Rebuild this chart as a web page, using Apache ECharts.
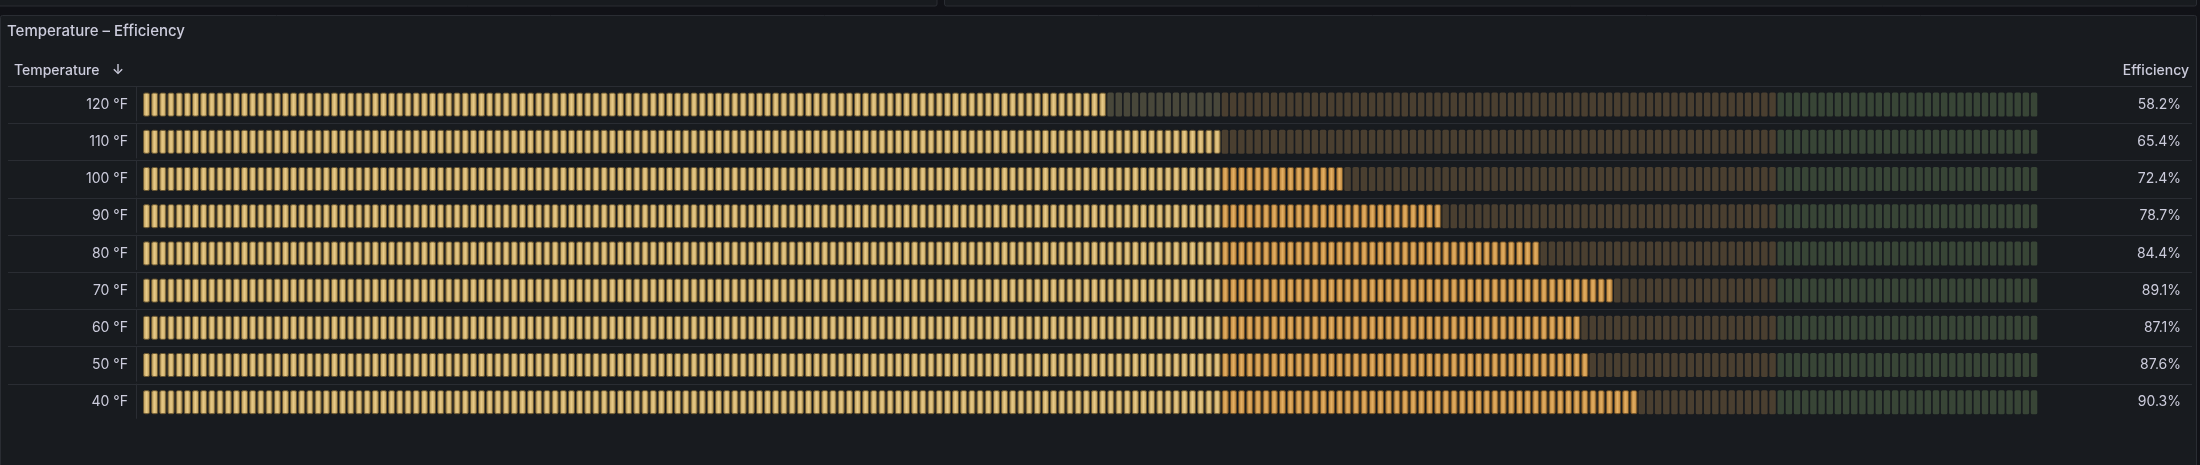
<!DOCTYPE html>
<html><head><meta charset="utf-8">
<script src="https://cdn.jsdelivr.net/npm/echarts@6/dist/echarts.min.js"></script>
<style>html,body{margin:0;padding:0;background:#111217;}#c{width:2200px;height:465px;}</style>
</head><body><div id="c"></div>
<script>
// ---- data ----
const temperatures = ['120 °F','110 °F','100 °F','90 °F','80 °F','70 °F','60 °F','50 °F','40 °F'];
const efficiency = [58.2, 65.4, 72.4, 78.7, 84.4, 89.1, 87.1, 87.6, 90.3];
const thresholds = [65, 99.1];
const scaleMin = 0;
const scaleMax = 115;
const cellCount = 232;

// ---- styles ----
const FONT = 'Inter, "Noto Sans", sans-serif';
const TXT = '#ccccdc';
const LINE = '#2a2d33';
const zoneLit = [
  {edge:'#b39352', mid:'#e9cb88', border:'#6b5832'},
  {edge:'#b47c34', mid:'#e4af62', border:'#6b4e26'},
  {edge:'#5f9a57', mid:'#86c97c', border:'#3c5a36'}
];
const zoneDim = ['#48473a', '#4a3f30', '#384536'];

const chart = echarts.init(document.getElementById('c'), null, {renderer:'canvas'});

function renderItem(params, api) {
  const v = api.value(0);
  const row = api.value(1);
  const c0 = api.coord([scaleMin, row]);
  const cy = c0[1];
  const bandH = api.size([0, 1])[1];
  const cellH = 24;
  const gap = 1.2;
  const children = [];
  const top = cy - bandH / 2;
  children.push({type:'line', shape:{x1:8, y1:Math.round(top)+0.5, x2:2192, y2:Math.round(top)+0.5}, style:{stroke:LINE, lineWidth:1}});
  children.push({type:'line', shape:{x1:c0[0]-6.5, y1:top, x2:c0[0]-6.5, y2:top+bandH-2}, style:{stroke:LINE, lineWidth:1}});
  const step = (scaleMax - scaleMin) / cellCount;
  for (let i = 0; i < cellCount; i++) {
    const s = scaleMin + i * step;
    const x0 = api.coord([s, row])[0];
    const x1 = api.coord([s + step, row])[0];
    const zone = s >= thresholds[1] ? 2 : (s >= thresholds[0] ? 1 : 0);
    const lit = s < v;
    const w = x1 - x0 - gap;
    if (lit) {
      const z = zoneLit[zone];
      children.push({type:'rect', shape:{x:x0+0.5, y:cy-cellH/2+0.5, width:w-1, height:cellH-1, r:1.5},
        style:{fill:{type:'linear', x:0, y:0, x2:1, y2:0, colorStops:[
          {offset:0, color:z.edge},{offset:0.5, color:z.mid},{offset:1, color:z.edge}]},
          stroke:z.border, lineWidth:1}});
    } else {
      children.push({type:'rect', shape:{x:x0, y:cy-cellH/2, width:w-0.5, height:cellH, r:1.5},
        style:{fill:zoneDim[zone]}});
    }
  }
  return {type:'group', children};
}

chart.setOption({
  backgroundColor:'#111217',
  animation:false,
  title:{text:'Temperature – Efficiency', left:7, top:24, padding:0,
    textStyle:{fontSize:15, fontWeight:500, color:TXT, fontFamily:FONT}},
  grid:{left:143, right:161, top:86, height:9*37.2, containLabel:false},
  xAxis:{type:'value', min:scaleMin, max:scaleMax, show:false},
  yAxis:[
    {type:'category', data:temperatures, inverse:true, position:'left',
      axisLine:{show:false}, axisTick:{show:false}, splitLine:{show:false},
      axisLabel:{margin:15, color:TXT, fontSize:14, fontFamily:FONT}},
    {type:'category', data:temperatures, inverse:true, position:'right',
      axisLine:{show:false}, axisTick:{show:false}, splitLine:{show:false},
      axisLabel:{margin:142, align:'right', color:TXT, fontSize:14, fontFamily:FONT,
        formatter:(val, idx) => efficiency[idx].toFixed(1) + '%'}}
  ],
  graphic:[
    {type:'rect', z:-10, silent:true, shape:{x:-2, y:-4, width:939, height:10, r:2}, style:{fill:'#181b1f', stroke:LINE, lineWidth:1}},
    {type:'rect', z:-10, silent:true, shape:{x:944.5, y:-4, width:1252, height:10, r:2}, style:{fill:'#181b1f', stroke:LINE, lineWidth:1}},
    {type:'rect', z:-10, silent:true, shape:{x:0.5, y:15.5, width:2196, height:460, r:2}, style:{fill:'#181b1f', stroke:LINE, lineWidth:1}},
    {type:'text', left:14, top:64, style:{text:'Temperature', fill:TXT, font:'500 14px ' + FONT}},
    {type:'text', left:112, top:64, style:{text:'↓', fill:TXT, font:'500 14px ' + FONT}},
    {type:'text', right:11, top:64, style:{text:'Efficiency', fill:TXT, font:'500 14px ' + FONT}}
  ],
  series:[{
    type:'custom', renderItem, clip:false,
    encode:{x:0, y:1},
    data: efficiency.map((v, i) => [v, i])
  }]
});
</script>
</body></html>
